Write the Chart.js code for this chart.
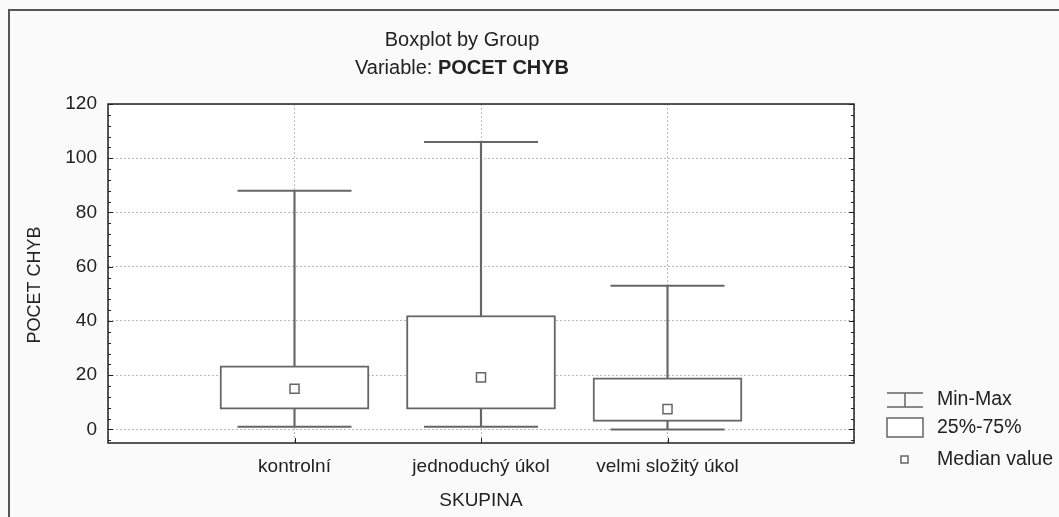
<!DOCTYPE html>
<html>
<head>
<meta charset="utf-8">
<script src="https://cdn.jsdelivr.net/npm/chart.js@4.4.1/dist/chart.umd.min.js"></script>
<style>
  html, body { margin: 0; padding: 0; background: #fafafa; }
  #wrap { width: 1059px; height: 517px; position: relative; }
</style>
</head>
<body>
<div id="wrap"><canvas id="boxChart"></canvas></div>
<script>
// categories (empty slots at both ends keep the groups off the frame)
const groups = ["", "kontrolní", "jednoduchý úkol", "velmi složitý úkol", ""];
const minVals = [null, 1, 1, 0, null];
const q1Vals = [null, 7.5, 7.5, 3, null];
const medianVals = [null, 15, 19.2, 7.5, null];
const q3Vals = [null, 23.5, 42, 19, null];
const maxVals = [null, 88, 106, 53, null];
const yTicks = [0, 20, 40, 60, 80, 100, 120];
const legendLabels = ["Min-Max", "25%-75%", "Median value"];

const FONT = "'Liberation Sans', Arial, sans-serif";
const LINE = "#666";

const boxes = q1Vals.map((q, i) => (q === null ? null : [q, q3Vals[i]]));
const stems = minVals.map((m, i) => (m === null ? null : [m, maxVals[i]]));

// frame, titles, minor ticks and legend
const decor = {
  id: "decor",
  beforeDraw(chart) {
    const { ctx, chartArea: a } = chart;
    ctx.save();
    ctx.strokeStyle = "#555";
    ctx.lineWidth = 2;
    ctx.beginPath();
    ctx.moveTo(9, 517);
    ctx.lineTo(9, 10);
    ctx.lineTo(1059, 10);
    ctx.stroke();
    ctx.fillStyle = "#fff";
    ctx.fillRect(a.left, a.top, a.right - a.left, a.bottom - a.top);
    ctx.restore();
  },
  afterDraw(chart) {
    const { ctx, chartArea: a } = chart;
    const y = chart.scales.y;
    const x = chart.scales.x;
    ctx.save();
    // plot frame
    ctx.strokeStyle = "#222";
    ctx.lineWidth = 1.5;
    ctx.strokeRect(a.left, a.top, a.right - a.left, a.bottom - a.top);
    // minor ticks
    ctx.lineWidth = 1;
    ctx.beginPath();
    for (let v = -4; v <= 120; v += 4) {
      const py = Math.round(y.getPixelForValue(v)) + 0.5;
      const len = v % 20 === 0 ? 5 : 3;
      ctx.moveTo(a.left, py); ctx.lineTo(a.left + len, py);
      ctx.moveTo(a.right, py); ctx.lineTo(a.right - len, py);
    }
    for (let i = 1; i < groups.length - 1; i++) {
      const px = Math.round(x.getPixelForValue(i)) + 0.5;
      ctx.moveTo(px, a.bottom); ctx.lineTo(px, a.bottom - 5);
    }
    ctx.stroke();

    // title
    ctx.fillStyle = "#222";
    ctx.textBaseline = "middle";
    ctx.textAlign = "center";
    ctx.font = "20px " + FONT;
    ctx.fillText("Boxplot by Group", 462, 40);
    const t1 = "Variable: ", t2 = "POCET CHYB";
    const w1 = ctx.measureText(t1).width;
    ctx.font = "bold 20px " + FONT;
    const w2 = ctx.measureText(t2).width;
    const sx = 462 - (w1 + w2) / 2;
    ctx.textAlign = "left";
    ctx.font = "20px " + FONT;
    ctx.fillText(t1, sx, 68);
    ctx.font = "bold 20px " + FONT;
    ctx.fillText(t2, sx + w1, 68);

    // y axis title
    ctx.save();
    ctx.translate(35, 285);
    ctx.rotate(-Math.PI / 2);
    ctx.textAlign = "center";
    ctx.font = "18px " + FONT;
    ctx.fillText("POCET CHYB", 0, 0);
    ctx.restore();

    // legend
    ctx.strokeStyle = LINE;
    ctx.lineWidth = 1.5;
    ctx.beginPath();
    ctx.moveTo(887, 393); ctx.lineTo(923, 393);
    ctx.moveTo(887, 407); ctx.lineTo(923, 407);
    ctx.moveTo(905, 393); ctx.lineTo(905, 407);
    ctx.stroke();
    ctx.fillStyle = "#fff";
    ctx.fillRect(887, 418, 36, 19);
    ctx.strokeRect(887, 418, 36, 19);
    ctx.fillRect(901, 456, 7, 7);
    ctx.strokeRect(901, 456, 7, 7);
    ctx.fillStyle = "#222";
    ctx.textAlign = "left";
    ctx.font = "19.5px " + FONT;
    ctx.fillText(legendLabels[0], 937, 400);
    ctx.fillText(legendLabels[1], 937, 428);
    ctx.fillText(legendLabels[2], 937, 460);
    ctx.restore();
  }
};

new Chart(document.getElementById("boxChart"), {
  data: {
    labels: groups,
    datasets: [
      {
        type: "line",
        data: medianVals,
        showLine: false,
        pointStyle: "rect",
        pointRadius: 6.4,
        pointBackgroundColor: "#fff",
        pointBorderColor: LINE,
        pointBorderWidth: 1.5,
        order: 0
      },
      {
        type: "bar",
        data: boxes,
        grouped: false,
        barThickness: 149,
        backgroundColor: "#fff",
        borderColor: LINE,
        borderWidth: 2,
        borderSkipped: false,
        order: 1
      },
      {
        type: "bar",
        data: stems,
        grouped: false,
        barThickness: 1.5,
        backgroundColor: LINE,
        borderWidth: 0,
        order: 2
      },
      {
        type: "line",
        data: maxVals,
        showLine: false,
        pointStyle: "line",
        pointRadius: 57,
        pointBorderColor: LINE,
        pointBorderWidth: 2,
        order: 3
      },
      {
        type: "line",
        data: minVals,
        showLine: false,
        pointStyle: "line",
        pointRadius: 57,
        pointBorderColor: LINE,
        pointBorderWidth: 2,
        order: 3
      }
    ]
  },
  options: {
    responsive: true,
    maintainAspectRatio: false,
    animation: false,
    events: [],
    layout: { padding: { left: 0, top: 104, right: 205, bottom: 0 } },
    plugins: {
      legend: { display: false },
      tooltip: { enabled: false },
      title: { display: false }
    },
    scales: {
      x: {
        type: "category",
        offset: false,
        grid: {
          offset: false,
          color: "#bbb",
          drawTicks: false
        },
        border: { display: false, dash: [2, 2] },
        ticks: {
          color: "#222",
          padding: 12,
          maxRotation: 0,
          autoSkip: false,
          font: { family: FONT, size: 19 }
        },
        title: {
          display: true,
          text: "SKUPINA",
          color: "#222",
          padding: { top: 0, bottom: 5 },
          font: { family: FONT, size: 19 }
        },
        afterFit(scale) { scale.height = 74; }
      },
      y: {
        min: -5,
        max: 120,
        grid: { color: "#bbb", drawTicks: false },
        border: { display: false, dash: [2, 2] },
        afterBuildTicks(scale) { scale.ticks = yTicks.map(v => ({ value: v })); },
        ticks: {
          color: "#222",
          padding: 11,
          font: { family: FONT, size: 19 }
        },
        afterFit(scale) { scale.width = 108; }
      }
    }
  },
  plugins: [decor]
});
</script>
</body>
</html>
